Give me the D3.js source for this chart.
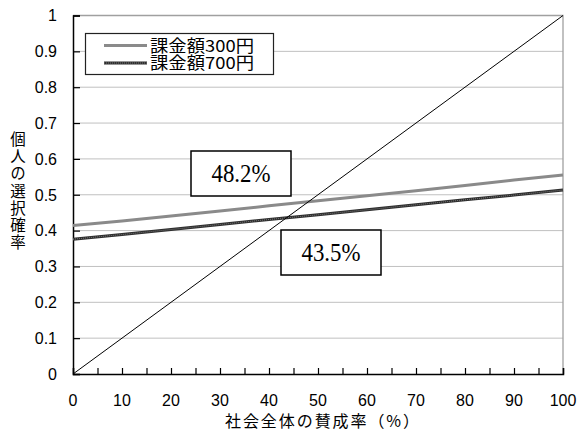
<!DOCTYPE html>
<html>
<head>
<meta charset="utf-8">
<script src="https://cdn.jsdelivr.net/npm/d3@7"></script>
<style>
  html, body { margin: 0; padding: 0; background: #fff; }
  svg { display: block; }
</style>
</head>
<body>
<svg id="chart" width="579" height="432"></svg>
<script>
// Share of society in favour (%)
const xValues = [0, 10, 20, 30, 40, 50, 60, 70, 80, 90, 100];
// Individual choice probability for each charge amount
const charge300 = [0.414, 0.427, 0.441, 0.455, 0.469, 0.483, 0.497, 0.511, 0.526, 0.541, 0.555];
const charge700 = [0.376, 0.389, 0.403, 0.417, 0.431, 0.444, 0.458, 0.472, 0.486, 0.499, 0.513];
// Reference diagonal y = x/100
const diagonal = [0, 1];
const seriesNames = ["課金額300円", "課金額700円"];
const crossLabels = ["48.2%", "43.5%"];
const yTicks = [0, 0.1, 0.2, 0.3, 0.4, 0.5, 0.6, 0.7, 0.8, 0.9, 1];
const xTicks = [0, 10, 20, 30, 40, 50, 60, 70, 80, 90, 100];

const svg = d3.select("#chart");
const plotL = 73, plotR = 563, plotT = 15.5, plotB = 374;

const x = d3.scaleLinear().domain([0, 100]).range([plotL, plotR]);
const y = d3.scaleLinear().domain([0, 1]).range([plotB, plotT]);

const sans = "'Liberation Sans', Arial, sans-serif";
const cjk = "'Noto Sans CJK JP', sans-serif";

// gridlines
svg.append("g").selectAll("line")
  .data(yTicks.filter(d => d > 0 && d < 1))
  .join("line")
  .attr("x1", plotL).attr("x2", plotR)
  .attr("y1", d => y(d)).attr("y2", d => y(d))
  .attr("stroke", "#c0c0c0").attr("stroke-width", 1);

// plot frame (top and right)
svg.append("path")
  .attr("d", `M${plotL},${y(1)}H${plotR}V${plotB}`)
  .attr("fill", "none").attr("stroke", "#a0a0a0").attr("stroke-width", 1.3);

// y axis
const yAxis = svg.append("g").attr("transform", `translate(${plotL},0)`)
  .call(d3.axisRight(y).tickValues(yTicks).tickSize(7).tickFormat(""));
yAxis.select(".domain").attr("stroke", "#000").attr("stroke-width", 1.5);
yAxis.selectAll(".tick line").attr("stroke", "#000").attr("stroke-width", 1.2);

svg.append("g").selectAll("text")
  .data(yTicks).join("text")
  .attr("x", 57).attr("y", d => y(d) + 5.8)
  .attr("text-anchor", "end")
  .attr("font-family", sans).attr("font-size", 16).attr("fill", "#000")
  .text(d => d3.format("~g")(d));

// x axis with minor ticks every 5
const xAxis = svg.append("g").attr("transform", `translate(0,${plotB})`)
  .call(d3.axisTop(x).tickValues(d3.range(0, 101, 5)).tickSize(6).tickFormat(""));
xAxis.select(".domain").attr("stroke", "#000").attr("stroke-width", 1.5);
xAxis.selectAll(".tick line").attr("stroke", "#000").attr("stroke-width", 1.2);

svg.append("g").selectAll("text")
  .data(xTicks).join("text")
  .attr("x", d => x(d)).attr("y", 405.5)
  .attr("text-anchor", "middle")
  .attr("font-family", sans).attr("font-size", 16).attr("fill", "#000")
  .text(d => d);

// axis titles
svg.append("text")
  .attr("x", 225).attr("y", 427)
  .attr("textLength", 194).attr("lengthAdjust", "spacing")
  .attr("font-family", cjk).attr("font-size", 16).attr("fill", "#000")
  .text("社会全体の賛成率（%）");

svg.append("text")
  .attr("x", 18).attr("y", 131)
  .style("writing-mode", "vertical-rl")
  .attr("letter-spacing", 1.8)
  .attr("font-family", cjk).attr("font-size", 15.5).attr("fill", "#000")
  .text("個人の選択確率");

// lines
const line = d3.line().x(d => x(d[0])).y(d => y(d[1]));

svg.append("path")
  .datum(xValues.map((v, i) => [v, charge300[i]]))
  .attr("d", line).attr("fill", "none")
  .attr("stroke", "#8a8a8a").attr("stroke-width", 3);

const p700 = xValues.map((v, i) => [v, charge700[i]]);
svg.append("path").datum(p700)
  .attr("d", line).attr("fill", "none")
  .attr("stroke", "#2e2e2e").attr("stroke-width", 3);
svg.append("path").datum(p700)
  .attr("d", line).attr("fill", "none")
  .attr("stroke", "#777").attr("stroke-width", 1).attr("stroke-dasharray", "1,1");

svg.append("path")
  .datum(diagonal.map(d => [d * 100, d]))
  .attr("d", line).attr("fill", "none")
  .attr("stroke", "#000").attr("stroke-width", 1);

// crossing-point labels
const boxes = [
  { text: crossLabels[0], x0: 191, y0: 151, w: 100, h: 45 },
  { text: crossLabels[1], x0: 281, y0: 230, w: 100, h: 45 }
];
const bg = svg.append("g").selectAll("g").data(boxes).join("g");
bg.append("rect")
  .attr("x", d => d.x0).attr("y", d => d.y0)
  .attr("width", d => d.w).attr("height", d => d.h)
  .attr("fill", "#fff").attr("stroke", "#000").attr("stroke-width", 1.5);
bg.append("text")
  .attr("x", d => d.x0 + d.w / 2).attr("y", d => d.y0 + d.h / 2 + 8.5)
  .attr("text-anchor", "middle")
  .attr("textLength", 59).attr("lengthAdjust", "spacingAndGlyphs")
  .attr("font-family", "'Liberation Serif', 'Times New Roman', serif")
  .attr("font-size", 25).attr("fill", "#000")
  .text(d => d.text);

// legend
const lg = svg.append("g");
lg.append("rect")
  .attr("x", 85.5).attr("y", 33.5).attr("width", 188).attr("height", 41)
  .attr("fill", "#fff").attr("stroke", "#222").attr("stroke-width", 1.2);
const legendRows = [
  { name: seriesNames[0], color: "#8a8a8a", dash: null, yy: 45.5 },
  { name: seriesNames[1], color: "#2e2e2e", dash: "1,1", yy: 63 }
];
legendRows.forEach(r => {
  lg.append("line").attr("x1", 104).attr("x2", 147)
    .attr("y1", r.yy).attr("y2", r.yy)
    .attr("stroke", r.color).attr("stroke-width", 3);
  if (r.dash) {
    lg.append("line").attr("x1", 104).attr("x2", 147)
      .attr("y1", r.yy).attr("y2", r.yy)
      .attr("stroke", "#777").attr("stroke-width", 1).attr("stroke-dasharray", r.dash);
  }
  lg.append("text").attr("x", 150).attr("y", r.yy + 6)
    .attr("textLength", 104).attr("lengthAdjust", "spacingAndGlyphs")
    .attr("font-family", cjk).attr("font-size", 16.5).attr("fill", "#000")
    .text(r.name);
});
</script>
</body>
</html>
